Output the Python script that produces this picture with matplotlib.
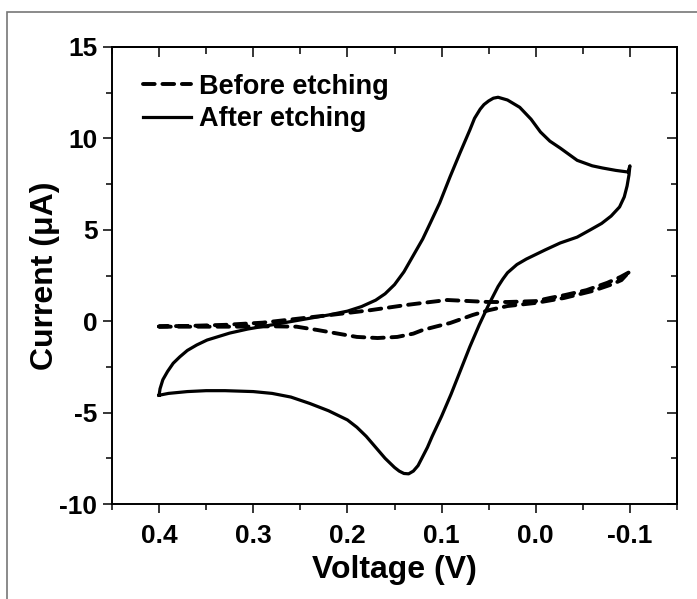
import matplotlib
matplotlib.use("Agg")
import matplotlib.pyplot as plt
import matplotlib.patches as mpatches
from matplotlib.ticker import MultipleLocator

plt.rcParams['font.family'] = ['Liberation Sans', 'DejaVu Sans']
plt.rcParams['font.weight'] = 'bold'
plt.rcParams['axes.unicode_minus'] = False

# Before etching (dashed): forward sweep 0.4 -> -0.1, then back -0.1 -> 0.4
before_v = [0.40, 0.36, 0.32, 0.28, 0.254, 0.232, 0.21, 0.19, 0.168, 0.147, 0.13, 0.12,
            0.105, 0.091, 0.08, 0.067, 0.05, 0.03, 0.0, -0.03, -0.06, -0.08, -0.091, -0.1,
            -0.1, -0.09, -0.076, -0.054, -0.031, -0.015, 0.0, 0.03, 0.05, 0.07, 0.094,
            0.112, 0.137, 0.176, 0.218, 0.264, 0.29, 0.33, 0.37, 0.40]
before_i = [-0.30, -0.30, -0.30, -0.28, -0.30, -0.48, -0.68, -0.86, -0.92, -0.86, -0.68, -0.48,
            -0.28, -0.10, 0.10, 0.34, 0.60, 0.83, 1.00, 1.27, 1.65, 2.00, 2.25, 2.75,
            2.70, 2.42, 2.10, 1.70, 1.43, 1.27, 1.10, 1.05, 1.05, 1.10, 1.16,
            1.05, 0.89, 0.60, 0.34, 0.07, -0.08, -0.20, -0.26, -0.28]

# After etching (solid): reduction branch 0.4 -> -0.1, then oxidation branch back to 0.4
after_v = [0.40, 0.39, 0.37, 0.35, 0.33, 0.30, 0.28, 0.26, 0.24, 0.22, 0.20, 0.19, 0.18,
           0.17, 0.16, 0.15, 0.145, 0.14, 0.135, 0.13, 0.125, 0.12, 0.115, 0.11, 0.10,
           0.09, 0.08, 0.07, 0.06, 0.05, 0.04, 0.035, 0.03, 0.02, 0.01, 0.0, -0.01, -0.026,
           -0.044, -0.058, -0.07, -0.08, -0.089, -0.094, -0.097, -0.099, -0.10,
           -0.098, -0.085, -0.071, -0.06, -0.044, -0.026, -0.015, -0.005, 0.005, 0.017,
           0.03, 0.04, 0.045, 0.05, 0.055, 0.059, 0.065, 0.07, 0.0805, 0.091, 0.102,
           0.112, 0.12, 0.13, 0.14, 0.15, 0.16, 0.17, 0.185, 0.20, 0.22, 0.25, 0.28,
           0.306, 0.325, 0.349, 0.36, 0.37, 0.378, 0.385, 0.391, 0.396, 0.399, 0.40]
after_i = [-4.05, -3.95, -3.85, -3.80, -3.80, -3.85, -3.95, -4.15, -4.50, -4.90, -5.40,
           -5.80, -6.30, -6.90, -7.50, -8.00, -8.20, -8.33, -8.35, -8.20, -7.90, -7.40,
           -6.90, -6.30, -5.20, -4.00, -2.70, -1.40, -0.20, 0.90, 1.90, 2.30, 2.65, 3.10,
           3.40, 3.65, 3.90, 4.28, 4.60, 5.00, 5.35, 5.75, 6.25, 6.80, 7.40, 8.00, 8.50,
           8.16, 8.25, 8.38, 8.50, 8.80, 9.47, 9.85, 10.35, 11.05, 11.70,
           12.10, 12.25, 12.20, 12.05, 11.85, 11.60, 11.10, 10.46, 9.20, 7.90, 6.47,
           5.37, 4.50, 3.60, 2.70, 2.00, 1.50, 1.15, 0.80, 0.55, 0.34, 0.07, -0.20,
           -0.43, -0.65, -1.03, -1.30, -1.60, -1.95, -2.30, -2.75, -3.20, -3.70, -4.05]

x_ticks = [0.4, 0.3, 0.2, 0.1, 0.0, -0.1]
y_ticks = [-10, -5, 0, 5, 10, 15]

fig = plt.figure(figsize=(6.97, 5.99), dpi=100)
ax = fig.add_axes([112 / 697, 1 - 504 / 599, 565 / 697, 457 / 599])

ax.plot(before_v, before_i, color='black', lw=2.8, ls=(0, (3.0, 2.0)),
        dash_capstyle='round', label='Before etching')
ax.plot(after_v, after_i, color='black', lw=2.3, label='After etching')

ax.set_xlim(0.45, -0.15)
ax.set_ylim(-10, 15)
ax.set_xticks(x_ticks)
ax.set_xticklabels(['%.1f' % v for v in x_ticks])
ax.set_yticks(y_ticks)
ax.xaxis.set_minor_locator(MultipleLocator(0.05))
ax.yaxis.set_minor_locator(MultipleLocator(2.5))

for s in ax.spines.values():
    s.set_linewidth(1.4)

ax.tick_params(which='both', direction='out', width=1.1, top=False, right=False,
               labelsize=19)
ax.tick_params(which='major', length=6.5)
ax.tick_params(which='minor', length=4)
ax.tick_params(axis='x', pad=8)
ax.tick_params(axis='y', pad=4)

# mirrored ticks on top and right pointing inward
secx = ax.secondary_xaxis('top')
secx.set_xticks(x_ticks)
secx.xaxis.set_minor_locator(MultipleLocator(0.05))
secx.tick_params(which='both', direction='in', width=1.1, labeltop=False)
secx.tick_params(which='major', length=7)
secx.tick_params(which='minor', length=5)
secy = ax.secondary_yaxis('right')
secy.set_yticks(y_ticks)
secy.yaxis.set_minor_locator(MultipleLocator(2.5))
secy.tick_params(which='both', direction='in', width=1.1, labelright=False)
secy.tick_params(which='major', length=7)
secy.tick_params(which='minor', length=4)
for sa in (secx, secy):
    for s in sa.spines.values():
        s.set_linewidth(1.4)

ax.set_xlabel('Voltage (V)', fontsize=23, fontweight='bold', labelpad=5)
ax.set_ylabel('Current (μA)', fontsize=23, fontweight='bold')
ax.yaxis.set_label_coords(-0.092, 0.5)

leg = ax.legend(loc='upper left', bbox_to_anchor=(0.035, 0.965), frameon=False,
                fontsize=19.5, handlelength=1.8, handletextpad=0.3, labelspacing=0.24,
                borderaxespad=0)

# grey frame around the figure (right and bottom edges fall outside)
fig.add_artist(mpatches.Rectangle((7 / 697, -0.1), 1.2, 1 - 12 / 599 + 0.1,
                                  transform=fig.transFigure, fill=False,
                                  edgecolor='#777777', lw=1.2))

fig.savefig('out.png', dpi=100)
